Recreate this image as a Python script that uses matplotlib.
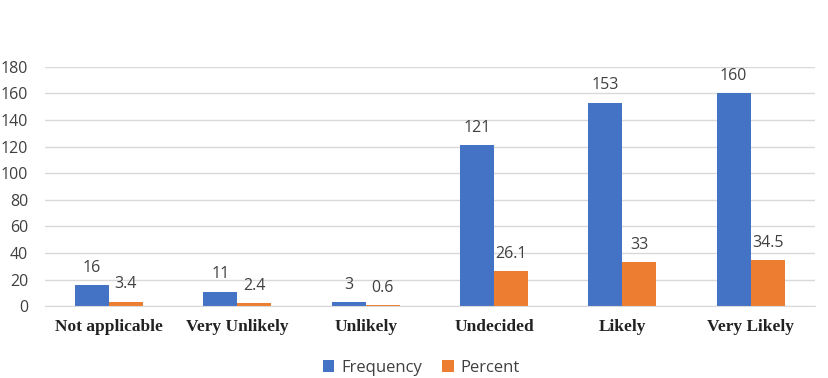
import numpy as np
import matplotlib.pyplot as plt

categories = ['Not applicable', 'Very Unlikely', 'Unlikely', 'Undecided', 'Likely', 'Very Likely']
frequency = [16, 11, 3, 121, 153, 160]
percent = [3.4, 2.4, 0.6, 26.1, 33, 34.5]
yticks = [0, 20, 40, 60, 80, 100, 120, 140, 160, 180]

blue = '#4472C4'
orange = '#ED7D31'
txt = '#404040'

fig = plt.figure(figsize=(8.29, 3.78), dpi=100)
ax = fig.add_axes([0.054, 0.19, 0.929, 0.633])

x = np.arange(len(categories))
w = 0.265
b1 = ax.bar(x - w / 2, frequency, w, color=blue, label='Frequency')
b2 = ax.bar(x + w / 2, percent, w, color=orange, label='Percent')

for bars, vals in [(b1, frequency), (b2, percent)]:
    for rect, v in zip(bars, vals):
        ax.text(rect.get_x() + rect.get_width() / 2, v + 7, f'{v:g}', ha='center', va='bottom',
                fontsize=11.5, color=txt, family='Open Sans')

ax.set_xlim(-0.5, len(categories) - 0.5)
ax.set_ylim(0, 180)
ax.set_yticks(yticks)
ax.set_xticks(x)
ax.set_xticklabels(categories, family='Liberation Serif', fontweight='bold', fontsize=12.5, color='#222222')
ax.tick_params(axis='y', length=0, labelsize=11.5, labelcolor=txt, pad=12)
ax.tick_params(axis='x', length=0, pad=9)
for lab in ax.get_yticklabels():
    lab.set_family('Open Sans')
ax.grid(axis='y', color='#D9D9D9', linewidth=1)
ax.set_axisbelow(True)
for s in ['top', 'right', 'left']:
    ax.spines[s].set_visible(False)
ax.spines['bottom'].set_color('#D9D9D9')

fig.legend(handles=[b1, b2], loc='center', bbox_to_anchor=(0.508, 0.027), ncol=2, frameon=False,
           prop={'family': 'Open Sans', 'size': 12}, labelcolor=txt, handlelength=0.7,
           handleheight=0.7, columnspacing=1.2, handletextpad=0.4)

fig.savefig('out.png', dpi=100)
